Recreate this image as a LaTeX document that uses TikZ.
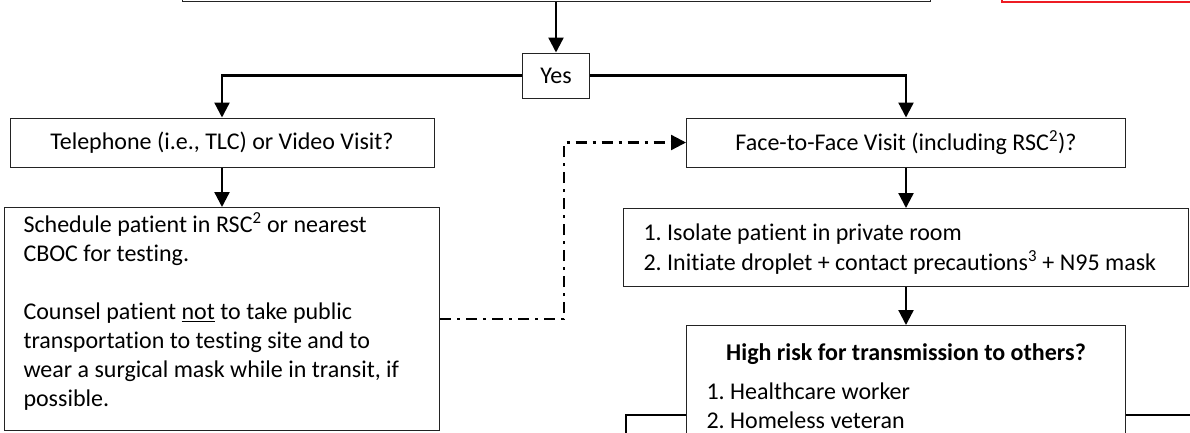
\documentclass[tikz,border=0pt]{standalone}
\usepackage{fontspec}
\setmainfont{Carlito}[Ligatures=NoCommon]
\usetikzlibrary{arrows.meta,positioning,calc}
\definecolor{boxline}{RGB}{35,35,35}
\definecolor{notered}{RGB}{237,28,36}
\newcommand{\flowfont}{\fontsize{24}{29}\selectfont\frenchspacing}

\begin{document}
\begin{tikzpicture}[x=1pt,y=-1pt,>={Triangle[width=15pt,length=15pt]},
	box/.style={draw=boxline, line width=1pt, font=\flowfont, inner sep=0pt},
	flow/.style={line width=2.3pt,->},
	alt/.style={line width=2.3pt,->,dash pattern=on 11pt off 6pt on 3pt off 6pt},
	]
	\useasboundingbox (0,0) rectangle (1190,432);
	\clip (0,0) rectangle (1190,432);

	% question and note above, cut off by the page
	\node[box, minimum width=748pt, minimum height=80pt] (question) at (556,-39) {};
	\node[draw=notered, line width=2pt, minimum width=260pt, minimum height=80pt] (note) at (1132,-38) {};

	\node[box, minimum width=67pt, minimum height=45pt] (yes) at (556,75.5) {Yes};

	\node[box, minimum width=424pt, minimum height=49pt] (phone) at (222,142.5) {Telephone (i.e., TLC) or Video Visit?};
	\node[box, minimum width=439pt, minimum height=49pt] (face) at (906,142.5) {Face-to-Face Visit (including RSC\textsuperscript{2})?};

	\node[box, anchor=north, inner xsep=19pt, inner ysep=5pt] (schedule) at (222,207)
		{\parbox[t][213pt][t]{397pt}{\raggedright Schedule patient in RSC\textsuperscript{2} or nearest\\CBOC for testing.\\[29pt]Counsel patient \underline{not} to take public\\transportation to testing site and to\\wear a surgical mask while in transit, if\\possible.}};

	\node[box, anchor=north, inner xsep=20pt, inner ysep=15pt] (isolate) at (906,208)
		{\parbox[t][48pt][t]{525pt}{\raggedright 1. Isolate patient in private room\\[1pt]2. Initiate droplet + contact precautions\textsuperscript{3} + N95 mask}};

	\node[box, anchor=north, inner xsep=20pt, inner ysep=18pt] (risk) at (906,325)
		{\parbox[t][170pt][t]{399pt}{\centering\textbf{High risk for transmission to others?}\par\vspace{10pt}\raggedright 1. Healthcare worker\\2. Homeless veteran}};

	\coordinate (riskL) at (626,440);
	\coordinate (riskR) at (1200,415);

	\draw[flow] (question.south) -- (yes.north);
	\draw[flow] (yes.west) -| (phone.north);
	\draw[flow] (yes.east) -| (face.north);
	\draw[flow] (phone.south) -- (schedule.north);
	\draw[flow] (face.south) -- (isolate.north);
	\draw[flow] (isolate.south) -- (risk.north);
	\draw[alt] (schedule.east) -- ++(124,0) |- (face.west);
	\draw[line width=2.3pt] (risk.west |- riskR) -| (riskL);
	\draw[line width=2.3pt] (risk.east |- riskR) -- (riskR);

\end{tikzpicture}
\end{document}
